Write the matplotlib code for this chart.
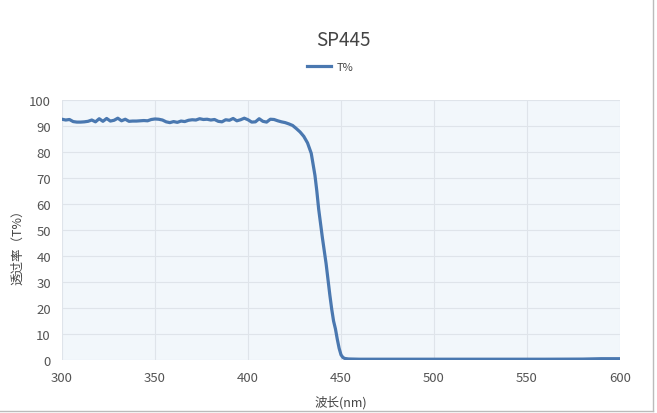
import matplotlib
matplotlib.use("Agg")
import matplotlib.pyplot as plt
from matplotlib.lines import Line2D

plt.rcParams['font.family'] = ['Noto Sans CJK SC', 'DejaVu Sans']

# wavelength (nm) and transmission (%)
wavelength = [300, 302, 304, 306, 308, 310, 312, 314, 316, 318, 320, 322, 324, 326, 328,
              330, 332, 334, 336, 338, 340, 342, 344, 346, 348, 350, 352, 354, 356, 358,
              360, 362, 364, 366, 368, 370, 372, 374, 376, 378, 380, 382, 384, 386, 388,
              390, 392, 394, 396, 398, 400, 402, 404, 406, 408, 410, 412, 414, 416, 418,
              420, 422, 424, 426, 428, 430, 432, 434, 436, 437, 438, 439, 440, 441, 442,
              443, 444, 445, 446, 447, 448, 449, 450, 451, 452, 454, 460, 480, 500, 520,
              540, 560, 580, 590, 600]
transmission = [92.6, 92.3, 92.5, 91.7, 91.5, 91.5, 91.6, 91.8, 92.3, 91.6, 92.8, 91.8, 92.9, 91.9, 92.2,
                93.0, 92.0, 92.6, 91.8, 91.9, 91.9, 92.0, 92.1, 92.0, 92.5, 92.7, 92.6, 92.3, 91.6, 91.3,
                91.7, 91.4, 91.9, 91.7, 92.2, 92.4, 92.3, 92.8, 92.5, 92.6, 92.3, 92.5, 91.8, 91.6, 92.4,
                92.2, 92.9, 92.0, 92.4, 93.0, 92.4, 91.5, 91.6, 92.8, 91.8, 91.5, 92.6, 92.5, 92.0, 91.6,
                91.3, 90.8, 90.2, 89.0, 87.7, 86.0, 83.5, 79.5, 71.0, 65.0, 58.0, 52.5, 47.0, 42.0, 37.0,
                31.0, 25.0, 19.6, 15.0, 12.0, 8.0, 4.5, 2.0, 1.0, 0.6, 0.4, 0.3, 0.3, 0.3, 0.3,
                0.3, 0.3, 0.35, 0.5, 0.5]

title = "SP445"
series_name = "T%"
xlabel = "波长(nm)"
ylabel = "透过率（T%）"

fig = plt.figure(figsize=(6.57, 4.14), dpi=100)
ax = fig.add_axes([62/657, 1-361/414, (620-62)/657, (361-101)/414])
ax.set_facecolor("#f2f7fb")

ax.plot(wavelength, transmission, color="#4a78b0", lw=2.3, label=series_name,
        solid_joinstyle="round")

ax.set_xlim(300, 600)
ax.set_ylim(0, 100)
ax.set_xticks(range(300, 601, 50))
ax.set_yticks(range(0, 101, 10))
ax.grid(True, color="#dfe4ea", lw=0.8)
ax.set_axisbelow(True)
for s in ax.spines.values():
    s.set_visible(False)
ax.tick_params(length=0, labelsize=9.5, colors="#555555", pad=8)

ax.set_xlabel(xlabel, fontsize=9, color="#444444", labelpad=8)
ax.set_ylabel(ylabel, fontsize=9, color="#444444")
ax.yaxis.set_label_coords(-0.068, 0.45)

fig.text(343/657, 1-40/414, title, ha="center", va="center", fontsize=13.5, color="#444444")
fig.legend(handles=[Line2D([], [], color="#4a78b0", lw=2.3)], labels=[series_name],
           loc="center", bbox_to_anchor=(330/657, 1-68/414), frameon=False,
           fontsize=8, handlelength=2.2, handletextpad=0.5, labelcolor="#444444")

# thin frame on right and bottom edge
fig.add_artist(Line2D([0.994, 0.994], [0.005, 1], transform=fig.transFigure, color="#bbbbbb", lw=1))
fig.add_artist(Line2D([0, 0.994], [0.005, 0.005], transform=fig.transFigure, color="#bbbbbb", lw=1))

fig.savefig("out.png", dpi=100)
